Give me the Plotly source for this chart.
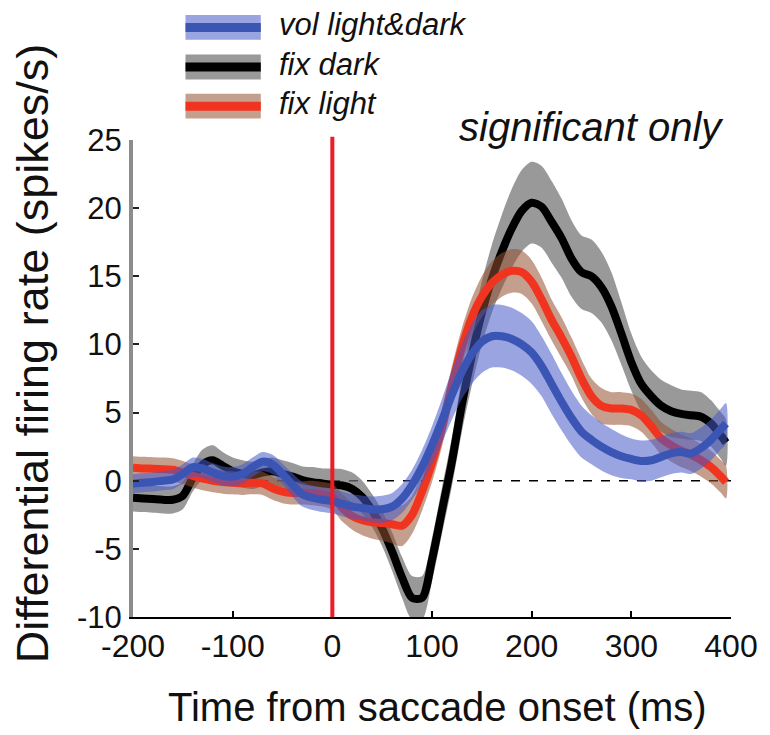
import plotly.graph_objects as go

# ---------------- data ----------------
time_ms = [-200, -190, -180, -170, -160, -150, -140, -130, -120, -110,
           -100, -90, -80, -70, -60, -50, -40, -30, -20, -10,
           0, 10, 20, 30, 40, 50, 60, 70, 80, 90,
           100, 110, 120, 130, 140, 150, 160, 170, 180, 190,
           200, 210, 220, 230, 240, 250, 260, 270, 280, 290,
           300, 310, 320, 330, 340, 350, 360, 370, 380, 390, 395]

fix_dark_mean = [-1.25, -1.3, -1.35, -1.4, -1.4, -1.1, 0.2, 1.2, 1.5, 1.1,
                 0.7, 0.5, 0.4, 0.6, 0.7, 0.5, 0.3, 0.05, -0.1, -0.2,
                 -0.3, -0.35, -0.6, -1.2, -2.2, -3.5, -5.2, -7.1, -8.6, -8.6,
                 -5.8, -2.2, 1.4, 5.6, 9.2, 12.3, 14.8, 16.8, 18.5, 19.8,
                 20.4, 20.1, 19.0, 17.8, 16.3, 15.3, 15.0, 14.2, 12.8, 10.8,
                 8.7, 7.1, 6.2, 5.5, 5.1, 4.9, 4.8, 4.7, 4.2, 3.3, 2.8]
fix_dark_sem = [1.0, 1.0, 1.0, 1.0, 1.0, 1.0, 1.0, 1.1, 1.1, 1.0,
                1.0, 1.0, 1.0, 1.0, 1.0, 1.0, 1.0, 1.0, 1.1, 1.1,
                1.2, 1.2, 1.2, 1.2, 1.2, 1.3, 1.4, 1.5, 1.6, 1.6,
                1.6, 1.7, 1.8, 2.0, 2.2, 2.3, 2.5, 2.7, 2.9, 3.0,
                3.0, 3.0, 3.0, 2.9, 2.8, 2.7, 2.7, 2.6, 2.5, 2.3,
                2.1, 2.0, 1.9, 1.9, 1.9, 1.8, 1.8, 1.8, 1.7, 1.7, 1.7]

fix_light_mean = [0.95, 0.9, 0.88, 0.85, 0.8, 0.6, 0.35, 0.15, 0.0, -0.1,
                  -0.15, -0.2, -0.15, -0.2, -0.55, -0.8, -0.9, -0.9, -0.9, -1.0,
                  -1.2, -2.0, -2.6, -2.9, -3.05, -3.1, -3.2, -3.3, -2.5, -0.8,
                  1.3, 3.9, 7.0, 9.8, 12.0, 13.5, 14.5, 15.1, 15.4, 15.3,
                  14.6, 13.3, 11.8, 10.5, 9.1, 7.5, 6.2, 5.5, 5.3, 5.3,
                  5.2, 4.8, 4.0, 3.1, 2.6, 2.2, 1.9, 1.5, 1.0, 0.3, -0.1]
fix_light_sem = [0.85, 0.85, 0.85, 0.85, 0.85, 0.85, 0.85, 0.85, 0.85, 0.85,
                 0.85, 0.85, 0.85, 0.85, 0.85, 0.85, 0.85, 0.85, 0.9, 0.9,
                 0.95, 1.0, 1.0, 1.1, 1.2, 1.3, 1.4, 1.5, 1.4, 1.4,
                 1.4, 1.4, 1.4, 1.4, 1.4, 1.5, 1.6, 1.6, 1.6, 1.6,
                 1.6, 1.6, 1.5, 1.5, 1.4, 1.4, 1.3, 1.3, 1.2, 1.2,
                 1.2, 1.2, 1.2, 1.2, 1.2, 1.2, 1.2, 1.2, 1.2, 1.2, 1.2]

vol_mean = [-0.2, -0.15, -0.1, 0.0, 0.1, 0.5, 1.0, 0.9, 0.6, 0.35,
            0.3, 0.5, 1.0, 1.4, 1.2, 0.5, -0.3, -1.0, -1.25, -1.4,
            -1.5, -1.7, -1.9, -2.0, -2.1, -2.1, -1.9, -1.3, -0.3, 1.0,
            2.6, 4.4, 6.3, 8.0, 9.3, 10.2, 10.6, 10.6, 10.4, 10.0,
            9.4, 8.4, 7.1, 5.8, 4.6, 3.6, 3.0, 2.5, 2.1, 1.8,
            1.6, 1.45, 1.5, 1.75, 2.0, 2.1, 2.0, 2.4, 3.0, 3.8, 4.2]
vol_sem = [0.7, 0.7, 0.7, 0.7, 0.7, 0.7, 0.7, 0.7, 0.7, 0.7,
           0.7, 0.7, 0.7, 0.7, 0.7, 0.75, 0.85, 0.9, 0.9, 0.9,
           0.9, 0.9, 0.9, 0.9, 0.95, 1.0, 1.0, 1.05, 1.1, 1.25,
           1.4, 1.6, 1.8, 2.0, 2.2, 2.3, 2.3, 2.3, 2.3, 2.3,
           2.3, 2.2, 2.2, 2.1, 2.0, 1.9, 1.8, 1.75, 1.7, 1.6,
           1.5, 1.5, 1.5, 1.5, 1.5, 1.5, 1.5, 1.5, 1.5, 1.5, 1.5]

legend_labels = ["vol light&dark", "fix dark", "fix light"]
x_ticks = [-200, -100, 0, 100, 200, 300, 400]
x_tick_text = ["-200", "-100", "0", "100", "200", "300", "400"]
y_ticks = [-10, -5, 0, 5, 10, 15, 20, 25]
y_tick_text = ["-10", "-5", "0", "5", "10", "15", "20", "25"]

# ---------------- styles ----------------
FONT = "Liberation Sans, Arial, Helvetica, sans-serif"
styles = {
    "fix dark": dict(line="#000000", band="rgba(110,110,110,0.70)"),
    "fix light": dict(line="#f0341f", band="rgba(150,80,50,0.55)"),
    "vol light&dark": dict(line="#3b55b4", band="rgba(70,90,200,0.55)"),
}
series = {
    "fix dark": (fix_dark_mean, fix_dark_sem),
    "fix light": (fix_light_mean, fix_light_sem),
    "vol light&dark": (vol_mean, vol_sem),
}

fig = go.Figure()

for name in ["fix dark", "fix light", "vol light&dark"]:
    mean, sem = series[name]
    upper = [m + s for m, s in zip(mean, sem)]
    lower = [m - s for m, s in zip(mean, sem)]
    st = styles[name]
    fig.add_trace(go.Scatter(
        x=time_ms + time_ms[::-1], y=upper + lower[::-1],
        fill="toself", fillcolor=st["band"], mode="lines",
        line=dict(width=0, color=st["band"], shape="spline", smoothing=0.8),
        hoverinfo="skip", showlegend=False))
    fig.add_trace(go.Scatter(
        x=time_ms, y=mean, mode="lines", name=name,
        line=dict(width=8, color=st["line"], shape="spline", smoothing=0.8),
        showlegend=False))

# zero dashed line (below data) and red saccade onset line (above)
fig.add_shape(type="line", xref="x", yref="y", x0=-200, x1=400, y0=0, y1=0,
              line=dict(color="black", width=1.6, dash="dash"), layer="below")
fig.add_shape(type="line", xref="x", yref="paper", x0=0, x1=0, y0=0, y1=1.007,
              line=dict(color="#ee1c25", width=4), layer="above")

# custom legend (band + line swatches)
sw_x0, sw_x1 = (186 - 133) / 603.7, (262 - 133) / 603.7
row_y = [1.236, 1.153, 1.071]
band_h = 0.026
for lab, yc in zip(legend_labels, row_y):
    st = styles[lab]
    fig.add_shape(type="rect", xref="paper", yref="paper",
                  x0=sw_x0, x1=sw_x1, y0=yc - band_h, y1=yc + band_h,
                  fillcolor=st["band"], line=dict(width=0))
    fig.add_shape(type="line", xref="paper", yref="paper",
                  x0=sw_x0, x1=sw_x1, y0=yc, y1=yc,
                  line=dict(color=st["line"], width=9))
    fig.add_annotation(xref="paper", yref="paper", x=(278 - 133) / 603.7, y=yc + 0.006,
                       xanchor="left", yanchor="middle", showarrow=False,
                       text=lab, font=dict(family=FONT, size=31, color="#111", style="italic"))

fig.add_annotation(xref="paper", yref="paper", x=0.767, y=1.027,
                   xanchor="center", yanchor="middle", showarrow=False,
                   text="significant only",
                   font=dict(family=FONT, size=40, color="#111", style="italic"))

# axis titles
fig.add_annotation(xref="paper", yref="paper", x=(440 - 133) / 603.7, y=-0.189,
                   xanchor="center", yanchor="middle", showarrow=False,
                   text="Time from saccade onset (ms)",
                   font=dict(family=FONT, size=40, color="#111"))
fig.add_annotation(xref="paper", yref="paper", x=(31 - 133) / 603.7, y=0.553,
                   xanchor="center", yanchor="middle", showarrow=False, textangle=-90,
                   text="Differential firing rate (spikes/s)",
                   font=dict(family=FONT, size=45, color="#111"))

fig.update_layout(
    width=770, height=735,
    margin=dict(l=133, r=33, t=140, b=118),
    paper_bgcolor="white", plot_bgcolor="white",
    showlegend=False,
    font=dict(family=FONT, color="#111"),
)
fig.update_xaxes(range=[-200, 400], tickvals=x_ticks, ticktext=x_tick_text,
                 ticks="inside", ticklen=6,
                 tickwidth=1.5, tickcolor="black", showline=True, linecolor="black",
                 linewidth=1.5, showgrid=False, zeroline=False,
                 tickfont=dict(family=FONT, size=32, color="#111"), ticklabelstandoff=0)
fig.update_yaxes(range=[-10, 25], tickvals=y_ticks, ticktext=y_tick_text,
                 ticks="inside", ticklen=6,
                 tickwidth=1.5, tickcolor="#222", showline=True, linecolor="#8c8c8c",
                 linewidth=4, showgrid=False, zeroline=False,
                 tickfont=dict(family=FONT, size=31, color="#111"), ticklabelstandoff=1)

fig.write_html("out.html")
